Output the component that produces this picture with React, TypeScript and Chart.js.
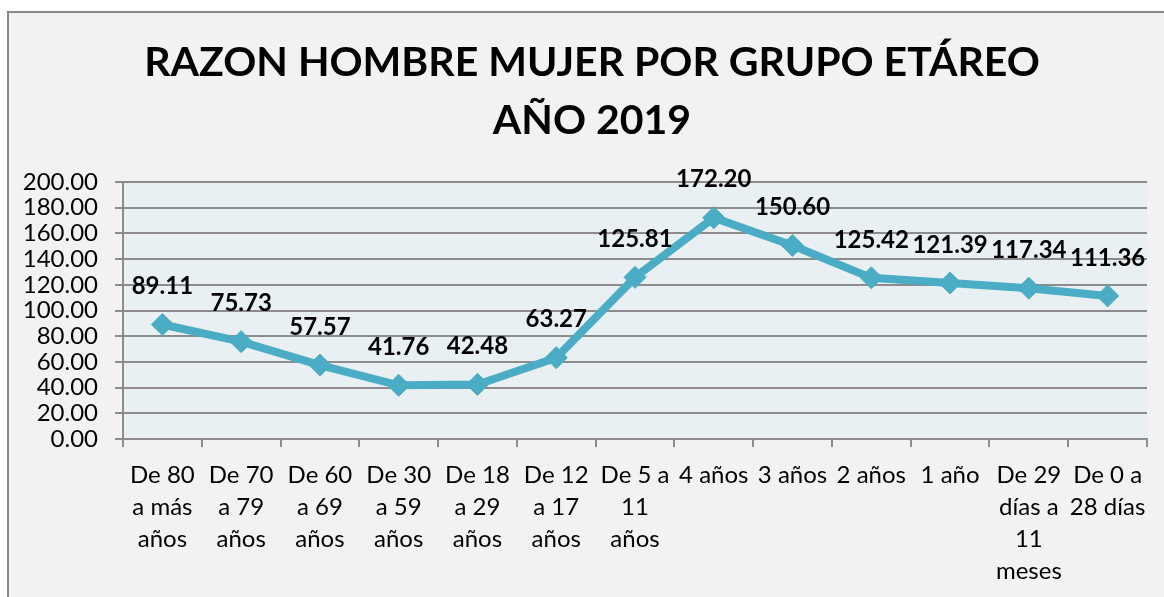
import React, { useEffect, useRef } from "react";
import { Chart, registerables } from "chart.js";

Chart.register(...registerables);

const categories: string[][] = [
  ["De 80", "a más", "años"],
  ["De 70", "a 79", "años"],
  ["De 60", "a 69", "años"],
  ["De 30", "a 59", "años"],
  ["De 18", "a 29", "años"],
  ["De 12", "a 17", "años"],
  ["De 5 a", "11", "años"],
  ["4 años"],
  ["3 años"],
  ["2 años"],
  ["1 año"],
  ["De 29", "días a", "11", "meses"],
  ["De 0 a", "28 días"],
];

const ratioValues: number[] = [89.11, 75.73, 57.57, 41.76, 42.48, 63.27, 125.81, 172.2, 150.6, 125.42, 121.39, 117.34, 111.36];

const titleLines: string[] = ["RAZON HOMBRE MUJER POR GRUPO ETÁREO", "AÑO 2019"];

const FONT = "Lato, Carlito, 'Open Sans', sans-serif";

const bgPlugin = {
  id: "bgPlugin",
  beforeDraw(chart: any) {
    const { ctx, chartArea } = chart;
    ctx.save();
    ctx.fillStyle = "#ffffff";
    ctx.fillRect(0, 0, chart.width, chart.height);
    ctx.fillStyle = "#f2f2f2";
    ctx.fillRect(7, 11, chart.width - 7, chart.height - 11);
    ctx.strokeStyle = "#8a8a8a";
    ctx.lineWidth = 2;
    ctx.beginPath();
    ctx.moveTo(8, chart.height + 2);
    ctx.lineTo(8, 12);
    ctx.lineTo(chart.width + 2, 12);
    ctx.stroke();
    ctx.fillStyle = "#e9f0f4";
    ctx.fillRect(chartArea.left, chartArea.top, chartArea.right - chartArea.left, chartArea.bottom - chartArea.top);
    // title
    ctx.fillStyle = "#000000";
    ctx.font = `bold 41px ${FONT}`;
    ctx.textAlign = "center";
    ctx.textBaseline = "middle";
    ctx.fillText(titleLines[0], 592, 63);
    ctx.fillText(titleLines[1], 592, 121);
    ctx.restore();
  },
};

const labelPlugin = {
  id: "labelPlugin",
  afterDatasetsDraw(chart: any) {
    const { ctx } = chart;
    const meta = chart.getDatasetMeta(0);
    ctx.save();
    ctx.fillStyle = "#000000";
    ctx.font = `bold 24px ${FONT}`;
    ctx.textAlign = "center";
    ctx.textBaseline = "middle";
    meta.data.forEach((pt: any, i: number) => {
      ctx.fillText(ratioValues[i].toFixed(2), pt.x, pt.y - 38);
    });
    ctx.restore();
  },
};

export default function App() {
  const ref = useRef<HTMLCanvasElement | null>(null);
  useEffect(() => {
    document.body.style.margin = "0";
    if (!ref.current) return;
    const chart = new Chart(ref.current, {
      type: "line",
      data: {
        labels: categories,
        datasets: [
          {
            data: ratioValues,
            borderColor: "#4bacc6",
            backgroundColor: "#4bacc6",
            borderWidth: 8,
            pointStyle: "rectRot",
            pointRadius: 11,
            pointBorderWidth: 1,
            pointBackgroundColor: "#4bacc6",
            pointBorderColor: "#4bacc6",
            tension: 0,
          },
        ],
      },
      options: {
        animation: false,
        responsive: false,
        maintainAspectRatio: false,
        layout: { padding: { top: 182, right: 17, left: 0, bottom: 0 } },
        plugins: { legend: { display: false }, tooltip: { enabled: false }, title: { display: false } },
        scales: {
          x: {
            offset: true,
            afterFit: (s: any) => {
              s.height = 158;
            },
            grid: {
              offset: true,
              drawOnChartArea: false,
              drawTicks: true,
              tickLength: 8,
              color: "#8c8c8c",
              lineWidth: 2,
            },
            border: { color: "#8c8c8c", width: 2 },
            ticks: {
              autoSkip: false,
              maxRotation: 0,
              minRotation: 0,
              padding: 12,
              color: "#000000",
              font: { family: FONT, size: 24, lineHeight: 32 / 24 },
            },
          },
          y: {
            min: 0,
            max: 200,
            afterFit: (s: any) => {
              s.width = 123;
            },
            grid: {
              color: "#8c8c8c",
              lineWidth: 2,
              tickLength: 8,
            },
            border: { color: "#8c8c8c", width: 2 },
            ticks: {
              autoSkip: false,
              stepSize: 20,
              padding: 17,
              color: "#000000",
              font: { family: FONT, size: 24 },
              callback: (v: any) => Number(v).toFixed(2),
            },
          },
        },
      },
      plugins: [bgPlugin, labelPlugin],
    });
    return () => chart.destroy();
  }, []);
  return (
    <div style={{ width: 1164, height: 597 }}>
      <canvas ref={ref} width={1164} height={597} style={{ display: "block" }} />
    </div>
  );
}
